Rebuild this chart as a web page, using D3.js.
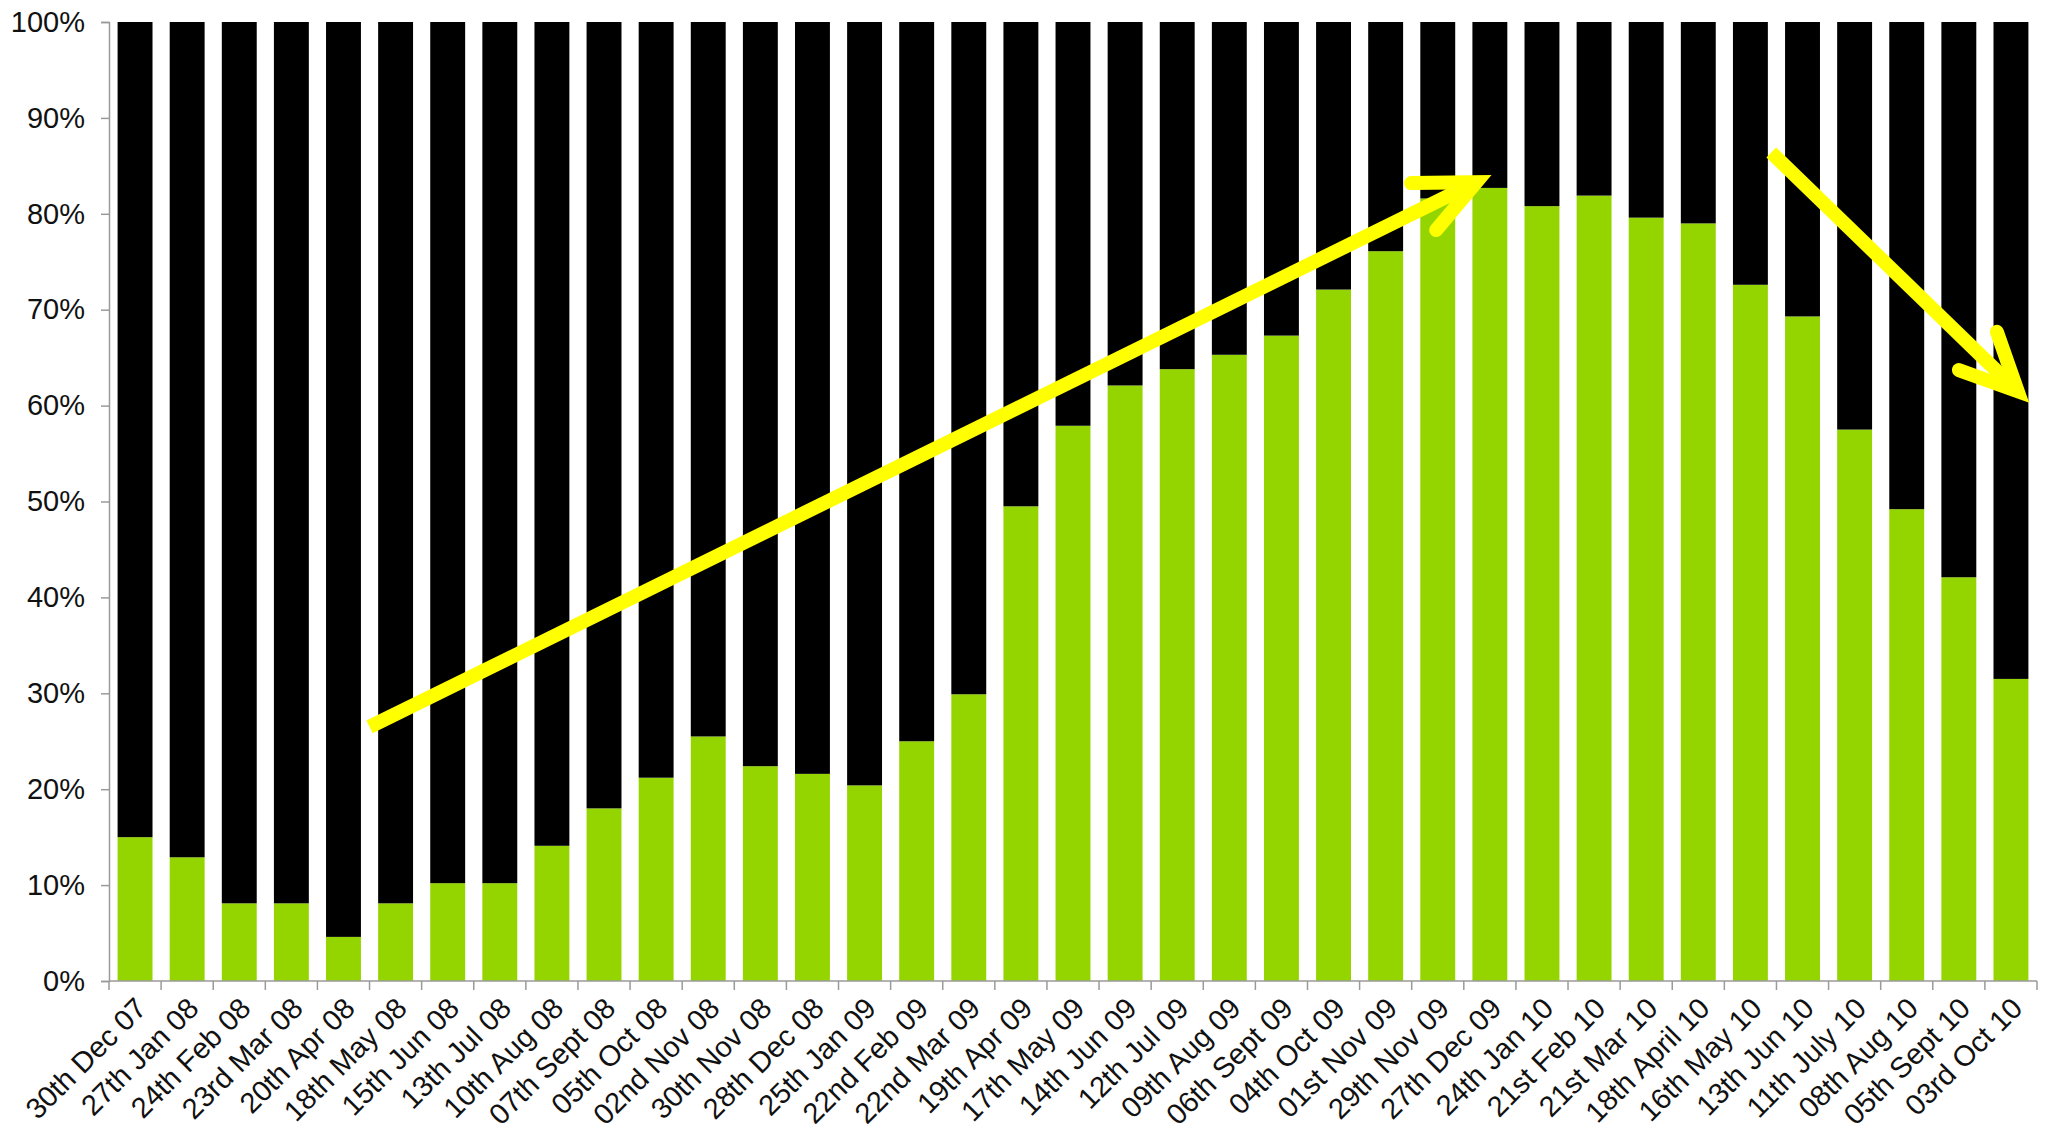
<!DOCTYPE html>
<html>
<head>
<meta charset="utf-8">
<script src="https://cdn.jsdelivr.net/npm/d3@7/dist/d3.min.js"></script>
<style>
  html, body { margin: 0; padding: 0; background: #ffffff; }
  svg { display: block; }
  text { font-family: "Liberation Sans", Arial, sans-serif; fill: #111; }
</style>
</head>
<body>
<svg id="chart" width="2045" height="1142"></svg>
<script>
// Four-weekly periods
const periods = [
  "30th Dec 07", "27th Jan 08", "24th Feb 08", "23rd Mar 08", "20th Apr 08",
  "18th May 08", "15th Jun 08", "13th Jul 08", "10th Aug 08", "07th Sept 08",
  "05th Oct 08", "02nd Nov 08", "30th Nov 08", "28th Dec 08", "25th Jan 09",
  "22nd Feb 09", "22nd Mar 09", "19th Apr 09", "17th May 09", "14th Jun 09",
  "12th Jul 09", "09th Aug 09", "06th Sept 09", "04th Oct 09", "01st Nov 09",
  "29th Nov 09", "27th Dec 09", "24th Jan 10", "21st Feb 10", "21st Mar 10",
  "18th April 10", "16th May 10", "13th Jun 10", "11th July 10", "08th Aug 10",
  "05th Sept 10", "03rd Oct 10"
];

// Share (%) in green for each period; the rest of each column is black
const greenShare = [
  15.0, 12.9, 8.1, 8.1, 4.6,
  8.1, 10.2, 10.2, 14.1, 18.0,
  21.2, 25.5, 22.4, 21.6, 20.4,
  25.0, 29.9, 49.5, 57.9, 62.1,
  63.8, 65.3, 67.3, 72.1, 76.1,
  81.6, 82.7, 80.8, 81.9, 79.6,
  79.0, 72.6, 69.3, 57.5, 49.2,
  42.1, 31.5
];

const yTicks = [0, 10, 20, 30, 40, 50, 60, 70, 80, 90, 100];

// Trend arrows, in (period index, percent) space
const upArrowShaft = [[5.0, 26.5], [26.24, 83.3]];
const upArrowHead = [[24.99, 83.2], [26.24, 83.3], [25.47, 78.3]];
const downArrowShaft = [[31.9, 86.4], [36.63, 61.5]];
const downArrowHead = [[36.23, 67.7], [36.63, 61.5], [35.5, 63.7]];

const plot = { left: 109, right: 2037, top: 22, bottom: 981 };
const labelFont = "'Liberation Sans', Arial, sans-serif";
const svg = d3.select("#chart");

const x = d3.scaleBand().domain(periods).range([plot.left, plot.right]).paddingInner(0.33).paddingOuter(0.165);
const xi = d3.scaleLinear().domain([0, periods.length]).range([plot.left, plot.right]);
const y = d3.scaleLinear().domain([0, 100]).range([plot.bottom, plot.top]);

const rows = periods.map((p, i) => ({ period: p, green: greenShare[i], black: 100 - greenShare[i] }));
const stack = d3.stack().keys(["green", "black"])(rows);
const colours = { green: "#94d500", black: "#000000" };

svg.append("g").selectAll("g")
  .data(stack)
  .join("g")
  .attr("fill", s => colours[s.key])
  .selectAll("rect")
  .data(s => s)
  .join("rect")
  .attr("x", d => x(d.data.period))
  .attr("width", x.bandwidth())
  .attr("y", d => y(d[1]))
  .attr("height", d => y(d[0]) - y(d[1]));

// Y axis
const yAxis = svg.append("g")
  .attr("transform", `translate(${plot.left},0)`)
  .call(d3.axisLeft(y).tickValues(yTicks).tickFormat(d => d + "%").tickSize(8).tickPadding(16));
yAxis.select(".domain").attr("stroke", "#9a9a9a").attr("stroke-width", 1.5);
yAxis.selectAll(".tick line").attr("stroke", "#9a9a9a").attr("stroke-width", 1.5);
yAxis.selectAll(".tick text").attr("font-size", 29).attr("fill", "#111")
  .style("font-family", labelFont);

// X axis: ticks at period boundaries
const xAxisG = svg.append("g").attr("transform", `translate(0,${plot.bottom})`);
xAxisG.append("line")
  .attr("x1", plot.left).attr("x2", plot.right)
  .attr("stroke", "#9a9a9a").attr("stroke-width", 1.5);
xAxisG.selectAll("line.tick")
  .data(d3.range(periods.length + 1))
  .join("line")
  .attr("class", "tick")
  .attr("x1", i => xi(i)).attr("x2", i => xi(i))
  .attr("y1", 0).attr("y2", 9)
  .attr("stroke", "#9a9a9a").attr("stroke-width", 1.5);
xAxisG.selectAll("text")
  .data(periods)
  .join("text")
  .attr("transform", p => `translate(${x(p) + x.bandwidth() / 2 + 6},${22}) rotate(-45)`)
  .attr("text-anchor", "end")
  .attr("font-size", 29)
  .attr("dy", "0.35em")
  .style("font-family", labelFont)
  .text(p => p);

// Trend arrows
const line = d3.line().x(d => xi(d[0])).y(d => y(d[1]));
const arrows = svg.append("g").attr("fill", "none").attr("stroke", "#ffff00");
[[upArrowShaft, upArrowHead], [downArrowShaft, downArrowHead]].forEach(([shaft, head]) => {
  arrows.append("path").attr("d", line(shaft)).attr("stroke-width", 14).attr("stroke-linecap", "butt");
  arrows.append("path").attr("d", line(head)).attr("stroke-width", 14)
    .attr("stroke-linecap", "round").attr("stroke-linejoin", "miter");
});
</script>
</body>
</html>
